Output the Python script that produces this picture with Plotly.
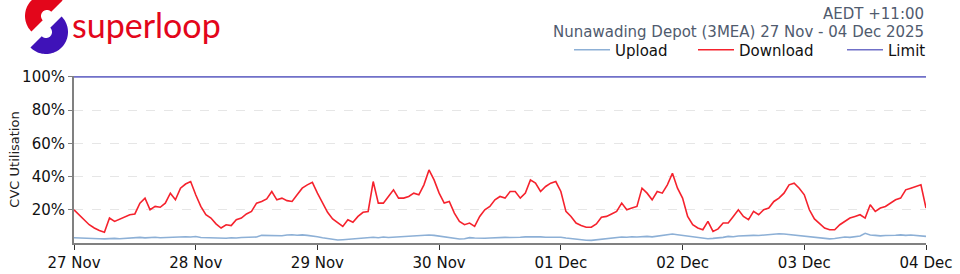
import numpy as np
import pandas as pd
import plotly.graph_objects as go

# ---------------- data (hourly, 27 Nov 00:00 -> 04 Dec 00:00) ----------------
start = "2025-11-27 00:00"
download = [
    20, 17, 14.5, 11, 9, 7.5, 6.5, 15, 13, 14.5, 15.5, 17, 17.5, 24, 27, 20, 22, 21.5, 24, 30, 26, 33, 35.5, 37,
    29, 22, 17, 15, 11.5, 9, 11, 10.5, 14, 15, 17.5, 19, 24, 25, 26.5, 31, 26, 27, 25.5, 25, 29, 33, 35, 36.5,
    30, 24, 18.5, 14.5, 12, 10, 14, 12.5, 16, 18.5, 19, 37, 24, 24, 28, 32, 27, 27, 28, 30, 29, 35, 44, 38,
    30, 24, 25, 18, 13, 11, 12, 10, 16, 20, 22, 26, 28, 27, 31, 31, 27, 30, 38, 36, 31, 34, 36, 37,
    31, 19, 16, 12, 10.5, 9.5, 9.5, 11.5, 15.5, 16, 17.5, 19, 24, 20, 21, 22, 33, 30, 26, 31, 30, 35, 42, 33,
    27, 16, 11, 9, 8, 13, 7, 8.5, 12, 12, 16, 20, 16, 14, 19, 17, 20, 21, 25, 27, 30, 35, 36, 33,
    29, 20, 14.5, 12, 9, 8, 8, 11, 13, 15, 16, 17, 15, 23, 19, 21, 22, 24, 26, 27, 32, 33, 34, 35, 21,
]
upload = [
    3.2, 3.0, 2.9, 2.8, 2.7, 2.6, 2.5, 2.7, 2.8, 2.6, 2.9, 3.0, 3.2, 3.4, 3.1, 3.3, 3.5, 3.2, 3.4, 3.6, 3.5, 3.7, 3.8, 3.6,
    3.9, 3.3, 3.2, 3.0, 2.8, 3.1, 2.9, 3.2, 3.0, 3.3, 3.4, 3.5, 3.6, 4.6, 4.5, 4.3, 4.6, 4.4, 4.8, 5.0, 4.7, 4.9, 4.6, 4.4,
    3.8, 3.2, 2.6, 2.2, 1.8, 2.0, 2.2, 2.6, 2.8, 3.0, 3.3, 3.5, 3.2, 3.6, 3.3, 3.5, 3.6, 3.8, 3.7, 3.9, 4.2, 4.5, 4.8, 4.6,
    4.2, 3.8, 3.2, 2.8, 2.4, 2.6, 3.2, 3.0, 2.8, 2.9, 3.0, 3.2, 3.1, 3.4, 3.3, 3.6, 3.5, 3.7, 3.8, 3.6, 3.7, 3.5, 3.6, 3.4,
    3.5, 3.0, 2.6, 2.3, 2.0, 1.7, 1.6, 1.9, 2.5, 2.8, 3.0, 3.4, 3.6, 3.5, 3.8, 3.6, 3.9, 4.0, 3.7, 4.1, 4.4, 4.8, 5.4, 5.0,
    4.6, 4.2, 3.6, 3.0, 2.8, 2.6, 2.8, 3.0, 3.4, 4.0, 3.8, 4.2, 4.4, 4.3, 4.6, 4.5, 4.8, 5.0, 5.2, 5.6, 5.4, 5.1, 4.9, 4.7,
    4.2, 3.8, 3.6, 3.2, 2.8, 2.5, 2.7, 3.0, 3.6, 3.4, 4.0, 4.2, 5.8, 4.8, 4.6, 4.3, 4.5, 4.4, 4.7, 4.9, 4.6, 4.8, 4.5, 4.6, 4.0,
]
limit_value = 100
y_ticks = [20, 40, 60, 80, 100]
y_ticktext = ["20%", "40%", "60%", "80%", "100%"]
title_line1 = "AEDT +11:00"
title_line2 = "Nunawading Depot (3MEA) 27 Nov - 04 Dec 2025"
y_title = "CVC Utilisation"

times = pd.date_range(start, periods=len(download), freq="h")

# ---------------- layout geometry ----------------
W, H = 960, 274
ML, MR, MT, MB = 74, 34, 76, 31
PW, PH = W - ML - MR, H - MT - MB


def px2paper(x, y):
    return (x - ML) / PW, 1 - (y - MT) / PH


def ring_path(cx, cy, R, r, a0, a1, n=48):
    ang = np.radians(np.linspace(a0, a1, n))
    outer = [(cx + R * np.cos(a), cy - R * np.sin(a)) for a in ang]
    inner = [(cx + r * np.cos(a), cy - r * np.sin(a)) for a in ang[::-1]]
    pts = [px2paper(x, y) for x, y in outer + inner]
    return "M " + " L ".join(f"{x:.5f},{y:.5f}" for x, y in pts) + " Z"


fig = go.Figure()
fig.add_trace(go.Scatter(x=times, y=upload, mode="lines", name="Upload", legend="legend",
                         line=dict(color="#8db0d6", width=1.6)))
fig.add_trace(go.Scatter(x=times, y=download, mode="lines", name="Download", legend="legend2",
                         line=dict(color="#f5222d", width=1.6)))
fig.add_trace(go.Scatter(x=[times[0], times[-1]], y=[limit_value, limit_value], mode="lines",
                         name="Limit", legend="legend3", line=dict(color="#7070c8", width=1.6)))

shapes = [
    dict(type="path", xref="paper", yref="paper", path=ring_path(47, 16, 22, 6, 45, 225),
         fillcolor="#e3061b", line=dict(width=0)),
    dict(type="path", xref="paper", yref="paper", path=ring_path(46, 32, 22, 6, 225, 405),
         fillcolor="#3f12b8", line=dict(width=0)),
]

lx, ly = px2paper(70, 25)
t1x, t1y = px2paper(926, 14)
t2x, t2y = px2paper(926, 32)

annotations = [
    dict(text="superloop", x=lx, y=ly, xref="paper", yref="paper", xanchor="left", yanchor="middle",
         showarrow=False, font=dict(family="Lato", size=34, color="#e3061b")),
    dict(text=title_line1, x=t1x, y=t1y, xref="paper", yref="paper", xanchor="right", yanchor="middle",
         showarrow=False, font=dict(family="DejaVu Sans", size=15, color="#505b6e")),
    dict(text=title_line2, x=t2x, y=t2y, xref="paper", yref="paper", xanchor="right", yanchor="middle",
         showarrow=False, font=dict(family="DejaVu Sans", size=15, color="#505b6e")),
]


def leg(xpx):
    x, y = px2paper(xpx, 50)
    return dict(orientation="h", x=x, y=y, xanchor="left", yanchor="middle",
                font=dict(size=15, color="#111111"), bgcolor="rgba(0,0,0,0)",
                itemwidth=36, borderwidth=0)


fig.update_layout(
    width=W, height=H,
    margin=dict(l=ML, r=MR, t=MT, b=MB, pad=0, autoexpand=False),
    paper_bgcolor="white", plot_bgcolor="white",
    font=dict(family="DejaVu Sans", size=15, color="#111111"),
    showlegend=True,
    legend=leg(569), legend2=leg(693), legend3=leg(842),
    shapes=shapes,
    annotations=annotations,
    xaxis=dict(
        range=[times[0], times[-1]],
        type="date", tickformat="%d %b", dtick=86400000, tick0=start,
        showgrid=False, zeroline=False, automargin=False,
        showline=True, linecolor="#808080", linewidth=1.5,
        ticks="outside", ticklen=5, tickcolor="#333333", tickwidth=1,
        tickfont=dict(size=15, color="#111111"),
    ),
    yaxis=dict(
        range=[0, 100.5], automargin=False,
        tickvals=y_ticks, ticktext=y_ticktext,
        showgrid=True, gridcolor="#e6e6e6", griddash="dash", gridwidth=1,
        zeroline=False,
        showline=True, linecolor="#808080", linewidth=2,
        ticks="outside", ticklen=4, tickcolor="#808080",
        tickfont=dict(size=15, color="#111111"),
        title=dict(text=y_title, font=dict(size=13, color="#222222"), standoff=0),
    ),
)

fig.write_html("out.html")
